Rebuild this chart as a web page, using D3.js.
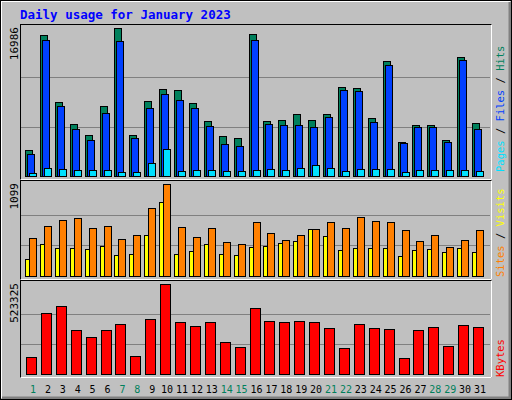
<!DOCTYPE html>
<html><head><meta charset="utf-8">
<script src="https://cdn.jsdelivr.net/npm/d3@7"></script>
<style>body{margin:0;background:#fff}svg{display:block}</style>
</head><body>
<script>
const days = d3.range(1, 32);
const weekends = [1, 7, 8, 14, 15, 21, 22, 28, 29];
const hits = [3036,16179,8455,5918,4650,7993,16986,4650,8570,9953,9838,8339,6264,4535,4304,16294,6264,6379,7071,6379,7071,10184,10069,6610,13181,3958,5803,5803,4189,13643,6033];
const files = [2575,15602,7993,5342,4189,7186,15487,4304,7763,9377,8685,7763,5688,3728,3497,15602,5918,5803,5803,5572,6725,9838,9723,6149,12720,3843,5572,5572,3958,13297,5342];
const pages = [384,961,845,730,730,730,500,500,1537,3151,615,730,730,615,615,730,845,730,961,1307,961,615,845,845,845,500,730,730,730,730,615];
const visits = [454,597,669,693,573,597,442,490,812,1099,585,466,573,406,382,645,513,430,490,561,645,573,704,657,645,549,418,490,346,430,549];
const sites = [203,382,334,334,322,358,251,263,490,884,263,299,382,263,251,346,358,394,418,561,478,310,334,334,334,239,310,322,287,334,287];
const kbytes = [101230,357170,397280,254030,213920,254030,288410,106960,317060,523325,299870,276950,299870,185270,156620,385820,305600,299870,305600,299870,265490,150890,288410,265490,259760,93590,254030,271220,162350,282680,271220];

const W = 512, H = 400;
const svg = d3.select("body").append("svg").attr("width", W).attr("height", H)
    .style("font-family", "'DejaVu Sans Mono', monospace");

// frame
svg.append("rect").attr("width", W).attr("height", H).attr("fill", "#C0C0C0");
svg.append("path").attr("d", `M1,${H-2}V1H${W-2}`).attr("stroke", "#fff").attr("stroke-width", 2).attr("fill", "none");
svg.append("path").attr("d", `M2,${H-2}H${W-2}V2`).attr("stroke", "#808080").attr("stroke-width", 3).attr("fill", "none");
svg.append("rect").attr("x", 0.5).attr("y", 0.5).attr("width", W - 1).attr("height", H - 1).attr("fill", "none").attr("stroke", "#000");

svg.append("text").attr("x", 20).attr("y", 19).attr("fill", "#0000FF")
    .attr("font-size", 12.5).attr("font-weight", "bold").text("Daily usage for January 2023");

const x = d3.scaleLinear().domain([1, 31]).range([25, 472]);

function panel(y0, y1, max, label) {
    svg.append("rect").attr("x", 20.5).attr("y", y0 + 0.5).attr("width", 471).attr("height", y1 - y0)
        .attr("fill", "none").attr("stroke", "#000");
    svg.append("path").attr("d", `M20.5,${y1 + 0.5}H491.5V${y0 + 0.5}`).attr("stroke", "#fff").attr("fill", "none");
    const y = d3.scaleLinear().domain([0, max]).range([y1 - 3, y0 + 4]);
    [1 / 3, 2 / 3].forEach(f => {
        svg.append("line").attr("x1", 21).attr("x2", 490).attr("y1", Math.round(y(max * f)) + 0.5)
            .attr("y2", Math.round(y(max * f)) + 0.5).attr("stroke", "#808080").attr("stroke-width", 1);
    });
    svg.append("text").attr("transform", `translate(18,${y0 + 3}) rotate(-90)`).attr("text-anchor", "end")
        .attr("font-size", 11).attr("fill", "#000").text(label);
    return y;
}

function bars(y, data, dx, w, color) {
    svg.append("g").selectAll("rect").data(data).join("rect")
        .attr("x", (d, i) => Math.round(x(days[i])) + dx + 0.5)
        .attr("y", d => Math.round(y(d)) + 0.5)
        .attr("width", w).attr("height", d => Math.round(y(0)) - Math.round(y(d)))
        .attr("fill", color).attr("stroke", "#000");
}

function sideLabel(y, parts) {
    const t = svg.append("text").attr("transform", `translate(504,${y}) rotate(-90)`)
        .attr("font-size", 10.5).attr("xml:space", "preserve");
    parts.forEach(([s, c]) => t.append("tspan").attr("fill", c).text(s));
}

const y1 = panel(24, 179, 16986, "16986");
bars(y1, hits, 0, 7, "#00805C");
bars(y1, files, 2, 7, "#0040FF");
bars(y1, pages, 4, 7, "#00E0FF");
sideLabel(172, [["Pages", "#00E0FF"], [" / ", "#000"], ["Files", "#0040FF"], [" / ", "#000"], ["Hits", "#00805C"]]);

const y2 = panel(180, 279, 1099, "1099");
bars(y2, sites, 0, 4, "#FFFF00");
bars(y2, visits, 4, 7, "#FF8000");
sideLabel(277, [["Sites", "#FF8000"], [" / ", "#000"], ["Visits", "#FFFF00"]]);

const y3 = panel(280, 377, 523325, "523325");
bars(y3, kbytes, 1, 10, "#FF0000");
sideLabel(377, [["KBytes", "#FF0000"]]);

svg.append("g").selectAll("text").data(days).join("text")
    .attr("x", d => x(d) + 8).attr("y", 393).attr("text-anchor", "middle").attr("font-size", 10)
    .attr("fill", d => weekends.includes(d) ? "#00805C" : "#000").text(d => d);
</script>
</body></html>
